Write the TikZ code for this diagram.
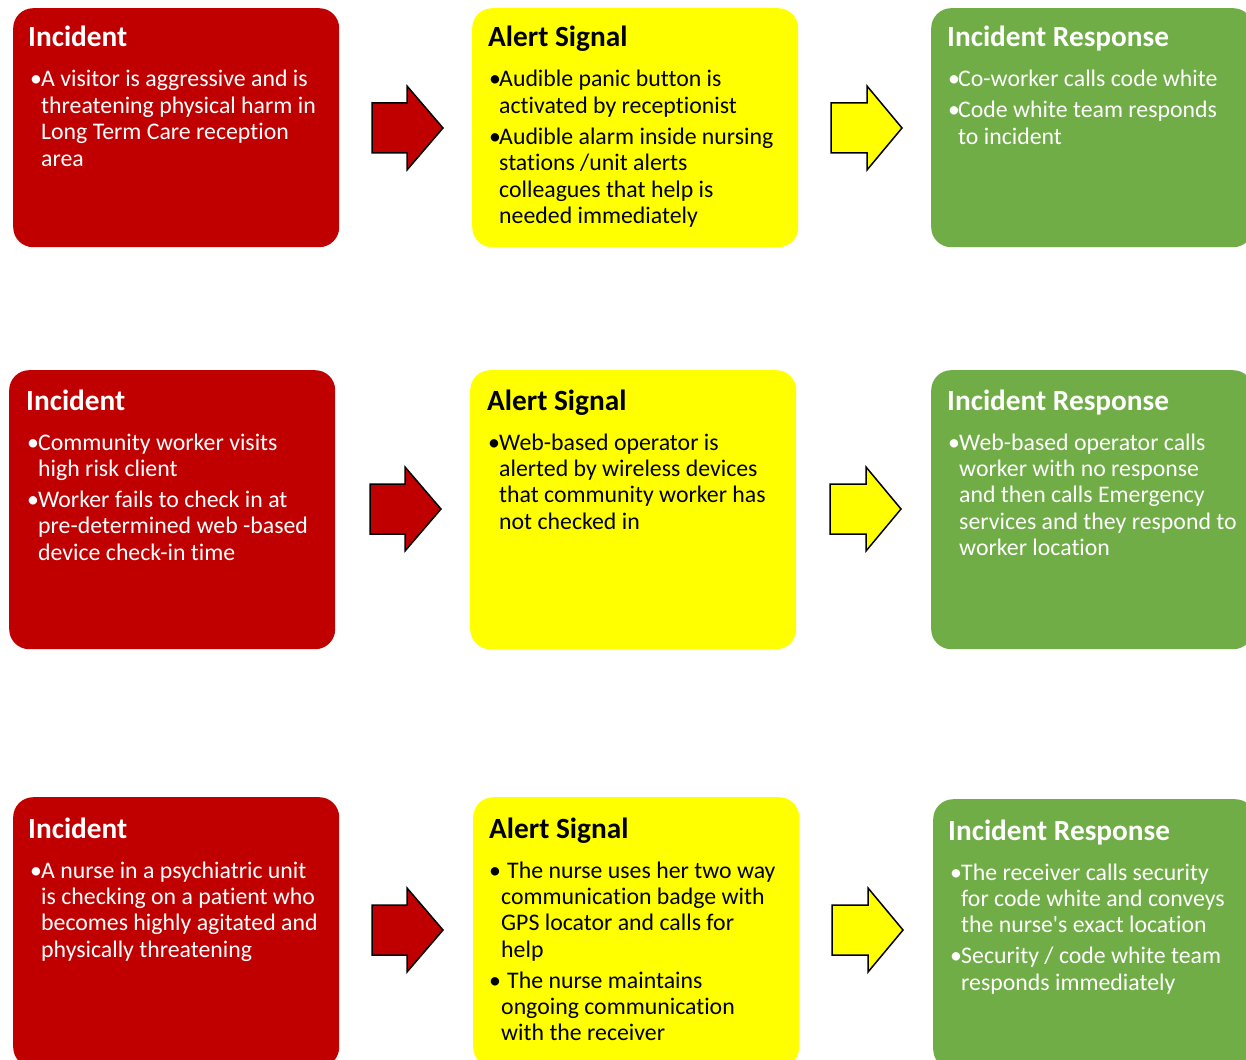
\documentclass[tikz,border=0pt]{standalone}
\usepackage{fontspec}
\newfontfamily\carlito{Carlito}[Ligatures={NoCommon}]
\usetikzlibrary{calc}
\definecolor{incred}{HTML}{C00000}
\definecolor{alertyel}{HTML}{FFFF00}
\definecolor{respgreen}{HTML}{70AD47}
\newcommand\bulbox[1][11pt]{\makebox[#1][l]{•}}
\newcommand\blockarrow[5]{%
  \draw[blockarr, fill=#5] (#1,#4-25) -- (#2,#4-25) -- (#2,#4-42) -- (#3,#4)
    -- (#2,#4+42) -- (#2,#4+25) -- (#1,#4+25) -- cycle;}
\tikzset{
  panel/.style={rounded corners=20pt, inner sep=0pt, anchor=north west, draw=none},
  ttl/.style={anchor=base west, inner sep=0pt, font=\carlito\fontsize{29.3}{34}\selectfont\bfseries},
  lst/.style={anchor=base west, inner sep=0pt, font=\carlito\fontsize{23.8}{26.4}\selectfont},
  blockarr/.style={draw=black, line width=1.5pt, line join=miter},
}
\begin{document}
\begin{tikzpicture}[x=1pt,y=-1pt]
\useasboundingbox (0,0) rectangle (1246,1059);
\fill[white] (0,0) rectangle (1246,1059);
\clip (0,0) rectangle (1246,1059);
% ---------- Row 1 ----------
\node[panel, fill=incred, minimum width=326pt, minimum height=239pt] (inc1) at (13,8) {};
\node[panel, fill=alertyel, minimum width=326pt, minimum height=239pt] (alr1) at (472,8) {};
\node[panel, fill=respgreen, minimum width=322pt, minimum height=239pt] (rsp1) at (931,8) {};
\node[ttl, text=white] (inc1t) at (28,47) {Incident};
\node[lst, text=white] (inc1b) at (30,87) {\begin{tabular}[t]{@{}l@{}l@{}}
\bulbox & A visitor is aggressive and is\\
 & threatening physical harm in\\
 & Long Term Care reception\\
 & area
\end{tabular}};
\node[ttl, text=black] (alr1t) at (488,47) {Alert Signal};
\node[lst, text=black] (alr1b) at (489,87) {\begin{tabular}[t]{@{}l@{}l@{}}
\bulbox[10pt] & Audible panic button is\\
 & activated by receptionist\\[4.5pt]
\bulbox[10pt] & Audible alarm inside nursing\\
 & stations /unit alerts\\
 & colleagues that help is\\
 & needed immediately
\end{tabular}};
\node[ttl, text=white] (rsp1t) at (947,47) {Incident Response};
\node[lst, text=white] (rsp1b) at (948,87) {\begin{tabular}[t]{@{}l@{}l@{}}
\bulbox[10pt] & Co-worker calls code white\\[4.5pt]
\bulbox[10pt] & Code white team responds\\
 & to incident
\end{tabular}};
\blockarrow{372}{407}{443}{128}{incred}
\blockarrow{831}{867}{902}{128}{alertyel}
% ---------- Row 2 ----------
\node[panel, fill=incred, minimum width=326pt, minimum height=279pt] (inc2) at (9,370) {};
\node[panel, fill=alertyel, minimum width=326pt, minimum height=279pt] (alr2) at (470,370) {};
\node[panel, fill=respgreen, minimum width=322pt, minimum height=279pt] (rsp2) at (931,370) {};
\node[ttl, text=white] (inc2t) at (26,410) {Incident};
\node[lst, text=white] (inc2b) at (27,450) {\begin{tabular}[t]{@{}l@{}l@{}}
\bulbox & Community worker visits\\
 & high risk client\\[4.5pt]
\bulbox & Worker fails to check in at\\
 & pre-determined web -based\\
 & device check-in time
\end{tabular}};
\node[ttl, text=black] (alr2t) at (487,410) {Alert Signal};
\node[lst, text=black] (alr2b) at (488,450) {\begin{tabular}[t]{@{}l@{}l@{}}
\bulbox & Web-based operator is\\
 & alerted by wireless devices\\
 & that community worker has\\
 & not checked in
\end{tabular}};
\node[ttl, text=white] (rsp2t) at (947,410) {Incident Response};
\node[lst, text=white] (rsp2b) at (948,450) {\begin{tabular}[t]{@{}l@{}l@{}}
\bulbox & Web-based operator calls\\
 & worker with no response\\
 & and then calls Emergency\\
 & services and they respond to\\
 & worker location
\end{tabular}};
\blockarrow{370}{405}{441}{509}{incred}
\blockarrow{830}{866}{901}{509}{alertyel}
% ---------- Row 3 ----------
\node[panel, fill=incred, minimum width=326pt, minimum height=270pt] (inc3) at (13,797) {};
\node[panel, fill=alertyel, minimum width=326pt, minimum height=270pt] (alr3) at (473,797) {};
\node[panel, fill=respgreen, minimum width=322pt, minimum height=270pt] (rsp3) at (933,799) {};
\node[ttl, text=white] (inc3t) at (28,838) {Incident};
\node[lst, text=white] (inc3b) at (30,878) {\begin{tabular}[t]{@{}l@{}l@{}}
\bulbox & A nurse in a psychiatric unit\\
 & is checking on a patient who\\
 & becomes highly agitated and\\
 & physically threatening
\end{tabular}};
\node[ttl, text=black] (alr3t) at (489,838) {Alert Signal};
\node[lst, text=black] (alr3b) at (489,878) {\begin{tabular}[t]{@{}l@{}l@{}}
\bulbox[12pt] & \hspace{6pt}The nurse uses her two way\\
 & communication badge with\\
 & GPS locator and calls for\\
 & help\\[4.5pt]
\bulbox[12pt] & \hspace{6pt}The nurse maintains\\
 & ongoing communication\\
 & with the receiver
\end{tabular}};
\node[ttl, text=white] (rsp3t) at (948,840) {Incident Response};
\node[lst, text=white] (rsp3b) at (950,880) {\begin{tabular}[t]{@{}l@{}l@{}}
\bulbox & The receiver calls security\\
 & for code white and conveys\\
 & the nurse's exact location\\[4.5pt]
\bulbox & Security / code white team\\
 & responds immediately
\end{tabular}};
\blockarrow{372}{407}{443}{930}{incred}
\blockarrow{832}{868}{903}{930}{alertyel}
\end{tikzpicture}
\end{document}
